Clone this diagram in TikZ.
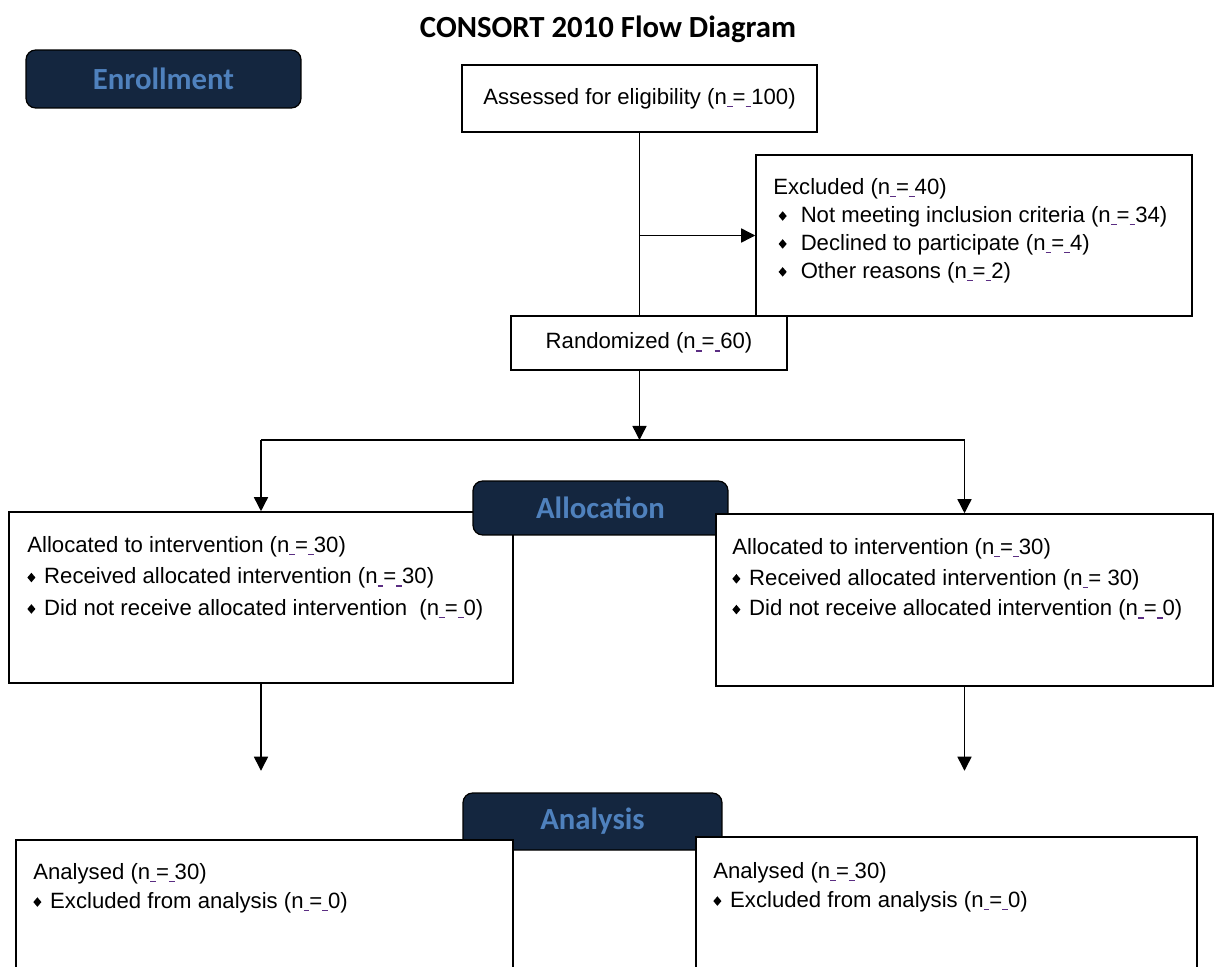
\documentclass[tikz,border=0pt]{standalone}
\usepackage{fontspec}
\setmainfont{Liberation Sans}
\newfontfamily\headfont{Carlito}
\definecolor{HeaderNavy}{HTML}{14263F}
\definecolor{HeaderBlue}{HTML}{4F81BD}
\definecolor{SpellViolet}{HTML}{5A2D82}
\usetikzlibrary{arrows.meta, positioning, calc}
% small diamond bullet and the violet marks under n = ...
\newcommand{\dmd}{\tikz[baseline=-3.6pt]\fill (0,0) -- (2.3pt,2.7pt) -- (4.6pt,0) -- (2.3pt,-2.7pt) -- cycle;}
\newcommand{\sq}{\textcolor{SpellViolet}{\rule[-1.6pt]{0.26em}{0.7pt}}}
\tikzset{
  % Box styles
  headbox/.style={rectangle, rounded corners=5.5pt, draw=black, line width=0.7pt, fill=HeaderNavy, text=HeaderBlue, font=\headfont\fontsize{17.5}{20}\selectfont\bfseries, align=center},
  flowbox/.style={rectangle, draw=black, line width=0.9pt, fill=white, font=\fontsize{12.6}{15.9}\selectfont, align=center},
  boxtext/.style={anchor=north west, inner sep=0pt, align=left, font=\fontsize{12.6}{15.9}\selectfont},
  % Arrow styles
  line/.style={draw=black, line width=0.8pt},
  arrow/.style={line, -{Triangle[width=8pt,length=8pt]}}
}
\begin{document}
\begin{tikzpicture}[x=0.02cm, y=-0.02cm]
  \useasboundingbox (0,0) rectangle (1215,967);
  \clip (0,0) rectangle (1215,967);

  % Title
  \node[font=\headfont\fontsize{17.5}{20}\selectfont\bfseries] (title) at (608,29) {CONSORT 2010 Flow Diagram};

  % Enrollment
  \node[headbox, minimum width=5.5cm, minimum height=1.16cm] (enroll) at (163.5,79) {Enrollment};
  \node[flowbox, minimum width=7.1cm, minimum height=1.34cm] (assessed) at (639.5,98.5) {Assessed for eligibility (n\sq=\sq100)};
  \node[flowbox, minimum width=8.72cm, minimum height=3.22cm] (excluded) at (974,235.5) {};
  \node[boxtext] (excltext) at (773,178) {Excluded (n\sq=\sq40)\\
    \hspace*{3pt}\dmd\hspace{8pt}Not meeting inclusion criteria (n\sq=\sq34)\\
    \hspace*{3pt}\dmd\hspace{8pt}Declined to participate (n\sq=\sq4)\\
    \hspace*{3pt}\dmd\hspace{8pt}Other reasons (n\sq=\sq2)};
  \node[flowbox, minimum width=5.52cm, minimum height=1.08cm] (random) at (649,343) {Randomized (n\sq=\sq60)};

  % Allocation
  \node[flowbox, minimum width=10.08cm, minimum height=3.42cm] (leftalloc) at (261,597.5) {};
  \node[boxtext, font=\fontsize{12.6}{17.9}\selectfont] (lalloctext) at (27,536) {Allocated to intervention (n\sq=\sq30)\\
    \dmd\hspace{5pt}Received allocated intervention (n\sq=\sq30)\\
    \dmd\hspace{5pt}Did not receive allocated intervention\ \ (n\sq=\sq0)};
  \node[headbox, minimum width=5.1cm, minimum height=1.08cm] (allochead) at (600.5,508) {Allocation};
  \node[flowbox, minimum width=9.94cm, minimum height=3.44cm] (rightalloc) at (964.5,600) {};
  \node[boxtext, font=\fontsize{12.6}{17.5}\selectfont] (ralloctext) at (732,538) {Allocated to intervention (n\sq=\sq30)\\
    \dmd\hspace{5pt}Received allocated intervention (n\sq= 30)\\
    \dmd\hspace{5pt}Did not receive allocated intervention (n\sq=\sq0)};

  % Analysis
  \node[headbox, minimum width=5.18cm, minimum height=1.14cm] (analhead) at (592.5,821.5) {Analysis};
  \node[flowbox, minimum width=9.94cm, minimum height=3.2cm] (leftanal) at (264.5,920) {};
  \node[boxtext, font=\fontsize{12.6}{16.5}\selectfont] (lanaltext) at (33,863) {Analysed (n\sq=\sq30)\\
    \dmd\hspace{5pt}Excluded from analysis (n\sq=\sq0)};
  \node[flowbox, minimum width=10.02cm, minimum height=3.26cm] (rightanal) at (946.5,918.5) {};
  \node[boxtext, font=\fontsize{12.6}{16.5}\selectfont] (ranaltext) at (713,862) {Analysed (n\sq=\sq30)\\
    \dmd\hspace{5pt}Excluded from analysis (n\sq=\sq0)};

  % Connectors
  \coordinate (split) at (assessed.south |- 0,440);
  \coordinate (leftout) at ($(leftalloc.south)+(0,87)$);
  \coordinate (rightout) at ($(rightalloc.south)+(0,84)$);
  \draw[line] (assessed.south) -- (assessed.south |- random.north);
  \draw[arrow] (assessed.south |- excluded.west) -- (excluded.west);
  \draw[arrow] (split |- random.south) -- (split);
  \draw[line] (split -| leftalloc.north) -- (split -| rightalloc.north);
  \draw[arrow] (split -| leftalloc.north) -- (leftalloc.north);
  \draw[arrow] (split -| rightalloc.north) -- (rightalloc.north);
  \draw[arrow] (leftalloc.south) -- (leftout);
  \draw[arrow] (rightalloc.south) -- (rightout);
\end{tikzpicture}
\end{document}
